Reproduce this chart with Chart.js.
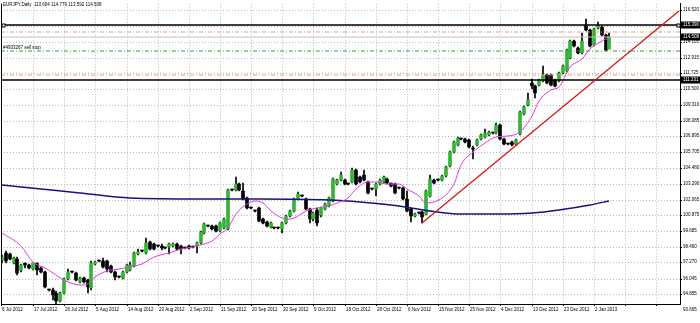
<!DOCTYPE html>
<html>
<head>
<meta charset="utf-8">
<script src="https://cdn.jsdelivr.net/npm/chart.js@4.4.0/dist/chart.umd.min.js"></script>
<style>
html,body{margin:0;padding:0;background:#fff;}
canvas{display:block;}
</style>
</head>
<body>
<canvas id="c" width="700" height="323"></canvas>
<script>
// daily candles, bar 1 is the first one visible at the left edge
var firstBar=1;
var openP=[97.494,98.022,97.947,97.193,97.570,96.665,97.193,97.042,96.740,97.193,
96.816,96.514,95.157,95.157,94.930,94.327,94.930,95.986,96.514,96.439,
95.760,96.062,95.911,95.307,97.117,97.419,97.419,97.419,96.966,96.514,
96.137,96.062,96.514,96.665,96.966,97.947,98.173,98.022,98.852,98.701,
98.550,98.550,98.399,98.475,98.550,98.701,98.550,98.399,98.550,98.475,
98.550,98.776,99.530,100.058,100.058,100.058,99.681,99.907,99.832,102.773,
102.773,103.225,102.698,102.170,101.416,101.189,101.416,100.586,100.360,99.983,
99.907,99.907,99.832,100.285,100.812,101.189,102.094,102.320,102.094,101.340,
100.586,101.265,100.888,101.340,101.566,101.944,103.225,103.603,103.603,103.225,
103.452,104.357,103.829,103.980,103.452,102.848,102.848,103.225,103.452,103.678,
103.301,103.225,102.924,102.924,102.094,101.340,100.812,101.039,101.114,100.963,
102.320,103.603,103.603,103.603,103.904,104.658,105.714,106.242,106.694,106.694,
106.619,105.940,106.242,106.694,106.845,106.996,107.147,107.147,107.750,106.694,
106.317,106.468,106.317,107.071,108.580,109.258,110.993,110.767,110.842,111.144,
111.596,111.596,111.219,111.144,111.747,111.898,112.878,114.160,113.632,113.255,
115.366,114.989,113.858,115.140,115.215,114.612,113.604];
var highP=[97.871,98.173,98.022,97.721,97.721,97.117,97.268,97.117,97.268,97.268,
96.891,96.589,95.232,95.307,95.081,95.006,96.062,96.740,96.589,96.514,
96.137,96.137,95.986,97.419,97.419,97.494,97.645,97.494,97.042,96.589,
96.212,96.589,97.117,97.344,98.098,98.324,98.248,99.153,98.927,98.776,
98.626,98.701,98.475,98.776,98.776,98.776,98.626,98.475,98.626,98.550,
98.852,99.681,100.285,100.134,100.134,100.134,100.360,100.662,102.848,102.848,
103.829,103.301,103.301,102.245,101.491,101.265,101.491,100.662,100.435,100.360,
99.983,99.983,100.360,100.888,101.265,102.170,102.622,102.396,102.170,101.416,
101.114,101.416,101.491,101.793,102.245,103.753,103.678,104.206,103.678,103.301,
104.507,104.432,103.904,104.357,103.527,102.924,103.301,103.678,103.904,103.753,
103.376,103.301,102.999,102.999,102.698,101.416,101.039,101.114,101.189,102.773,
103.980,103.678,103.678,103.980,104.658,105.790,106.544,106.845,106.770,106.770,
106.694,106.167,106.694,107.071,107.448,107.298,107.222,107.901,107.826,106.770,
106.393,106.544,106.694,108.806,109.183,110.239,111.295,110.842,111.295,112.275,
111.672,111.672,111.295,111.822,112.350,113.557,114.235,114.235,113.707,114.763,
115.894,115.064,115.140,115.592,115.291,114.688,114.779];
var lowP=[97.268,97.268,97.494,97.117,96.288,96.514,96.816,96.740,96.665,96.288,
96.439,95.307,95.081,94.403,94.101,94.252,94.855,95.911,96.439,95.835,
95.684,95.684,94.930,95.157,97.042,97.344,96.816,96.514,96.439,95.911,
96.062,95.986,96.439,96.589,96.891,97.871,98.098,97.947,98.248,98.248,
98.475,98.248,98.324,97.947,98.475,98.248,97.947,98.324,98.324,98.399,
98.022,98.701,99.455,99.983,99.757,99.606,99.606,99.832,99.757,102.698,
102.698,102.698,102.019,101.340,101.340,101.114,100.360,100.209,99.983,99.907,
99.832,99.832,99.530,100.209,100.737,101.114,102.019,102.245,101.265,100.285,
100.435,100.058,100.737,101.265,101.491,101.868,103.150,103.527,103.150,103.150,
103.376,103.150,103.376,103.527,102.471,102.773,102.320,103.150,103.376,103.225,
102.999,102.471,102.848,102.019,101.114,100.360,100.737,100.963,100.285,100.888,
102.245,103.225,103.527,103.527,103.829,104.583,105.639,106.167,106.619,106.393,
106.016,105.186,106.167,106.619,106.770,106.921,107.071,107.071,106.619,106.242,
106.242,106.167,106.242,106.996,108.504,109.183,110.540,109.862,110.767,111.068,
110.917,110.767,110.691,111.068,111.672,111.822,112.803,113.707,113.180,113.180,
114.914,113.707,113.783,115.064,114.537,113.406,113.592];
var closeP=[97.721,97.419,97.570,97.645,96.439,97.042,97.042,96.816,97.193,96.665,
96.514,95.383,95.157,94.780,94.327,94.930,95.986,96.514,96.514,95.911,
96.062,95.760,95.383,97.268,97.344,97.419,96.891,96.740,96.514,96.137,
96.137,96.514,97.042,97.042,98.022,98.098,98.173,98.776,98.324,98.324,
98.550,98.399,98.399,98.701,98.701,98.324,98.324,98.399,98.399,98.475,
98.776,99.606,100.209,100.058,99.832,99.681,100.285,100.586,102.773,102.773,
103.225,102.773,102.094,101.416,101.416,101.189,100.435,100.285,100.058,100.285,
99.907,99.907,100.285,100.812,101.189,102.094,102.471,102.320,101.340,100.586,
101.039,100.285,101.416,101.717,102.170,103.678,103.603,103.980,103.225,103.225,
104.357,103.225,103.452,103.603,102.547,102.848,103.225,103.603,103.829,103.301,
103.075,102.547,102.924,102.094,101.189,100.812,100.963,101.039,100.737,102.698,
103.678,103.301,103.603,103.904,104.583,105.714,106.468,106.770,106.694,106.468,
106.091,105.940,106.619,106.996,107.147,107.222,107.147,107.750,106.694,106.317,
106.317,106.242,106.619,108.730,109.107,109.711,110.767,110.239,111.219,111.596,
110.993,110.842,110.767,111.747,112.275,113.481,114.160,113.783,113.255,114.160,
114.989,113.783,115.064,115.366,114.612,113.481,114.508];

// fast MA (magenta) and slow MA (navy), read at some bars
var fastBars=[1,6,9,12,14,17,21,23,25,28,31,35,37,40,44,47,50,53,55,57,59,61,64,66,68,70,73,75,77,79,82,85,87,90,92,95,97,100,103,105,108,110,114,117,119,122,125,128,131,134,137,139,142,144,147,150,152,155,156,157];
var fastMA=[99.53,98.55,97.29,96.82,96.44,95.91,95.53,95.61,96.14,96.59,96.74,96.97,97.19,97.72,98.02,98.32,98.47,98.70,98.93,99.45,99.91,100.96,101.72,101.94,101.79,101.19,100.66,100.59,100.81,101.19,101.42,101.57,101.79,102.17,102.85,103.45,103.45,103.30,103.23,102.85,102.32,101.79,102.17,103.23,104.73,105.71,106.39,106.85,106.92,107.22,108.43,109.63,110.46,110.69,112.20,112.80,113.56,114.16,114.31,114.23];
var slowBars=[1,11,21,34,52,67,85,93,103,111,119,129,137,144,152,157];
var slowMA=[103.15,102.85,102.55,102.17,102.09,102.09,102.02,101.87,101.57,101.19,100.96,100.96,101.04,101.26,101.64,101.94];

// trend line anchors
var trendBars=[109,175];
var trendPrices=[100.285,116.44];

// horizontal levels
var levelTop=115.390, levelSL=114.840, levelBid=114.508, levelOrder=113.410, levelTP=111.600, levelLow=111.231;

// axis labels
var dateLabels=['6 Jul 2012','17 Jul 2012','26 Jul 2012','5 Aug 2012','14 Aug 2012','23 Aug 2012','2 Sep 2012','11 Sep 2012','20 Sep 2012','30 Sep 2012','9 Oct 2012','18 Oct 2012','28 Oct 2012','6 Nov 2012','15 Nov 2012','25 Nov 2012','4 Dec 2012','13 Dec 2012','23 Dec 2012','2 Jan 2013'];
var dateBars=[0,9,17,25,33,41,49,57,65,73,81,89,97,105,113,121,129,137,145,153];
var futureGridBars=[161,169];
var priceTicks=[94.855,96.045,97.270,98.460,99.685,100.875,102.065,103.290,104.480,105.705,106.895,108.085,109.310,110.500,111.725,112.915,114.105,115.330,116.520];
var bottomPrice=93.665;
var headerText='EURJPY,Daily  113.604 114.779 113.592 114.508';
var orderText='#4933267 sell stop';

var X_MIN=0.769, X_MAX=175.13, Y_MIN=94.101, Y_MAX=117.027;
var FONT='"Liberation Sans", Arial, sans-serif';

var wicks=[],bodies=[],bodyCols=[];
for(var i=0;i<openP.length;i++){
  wicks.push({x:firstBar+i,y:[lowP[i],highP[i]]});
  bodies.push({x:firstBar+i,y:[openP[i],closeP[i]]});
  bodyCols.push(closeP[i]>openP[i]?'#36b336':'#000000');
}
function pts(bars,vals){
  var a=[];
  for(var i=0;i<bars.length;i++) a.push({x:bars[i],y:vals[i]});
  return a;
}
function hline(v,color,dash,w){
  return {type:'line',data:[{x:X_MIN,y:v},{x:X_MAX,y:v}],borderColor:color,borderWidth:w,borderDash:dash,pointRadius:0,order:2};
}

var decor={id:'decor',
  beforeDraw:function(ch){
    var c=ch.ctx;c.save();c.fillStyle='#fff';c.fillRect(0,0,ch.width,ch.height);c.restore();
  },
  afterDraw:function(ch){
    var c=ch.ctx,a=ch.chartArea,ys=ch.scales.y;
    c.save();
    c.strokeStyle='#000';c.lineWidth=1;
    c.beginPath();c.moveTo(a.left+0.5,a.top);c.lineTo(a.left+0.5,a.bottom);c.stroke();
    var yt=Math.round(ys.getPixelForValue(levelTop))+0.5;
    c.fillStyle='#fff';
    [a.left+2.5,a.right-1.5].forEach(function(x){c.fillRect(x-1.5,yt-1.5,3,3);c.strokeRect(x-1.5,yt-1.5,3,3);});
    c.font='4.5px '+FONT;c.textBaseline='middle';c.textAlign='left';
    [levelTop,levelBid,levelLow].forEach(function(v){
      var y=ys.getPixelForValue(v);
      c.fillStyle='#000';c.fillRect(a.right+1,y-3.5,19,7);
      c.fillStyle='#fff';c.fillText(v.toFixed(3),a.right+3,y);
    });
    c.fillStyle='#000';
    c.fillText(bottomPrice.toFixed(3),a.right+3,ys.getPixelForValue(bottomPrice));
    c.fillText(headerText,3,5);
    c.fillText(orderText,3,ys.getPixelForValue(levelOrder)-3);
    c.restore();
  }
};

var gridOpts={color:'#b8b8b8',tickColor:'#000',tickLength:2,tickBorderDash:[],offset:false};
var tickFont={family:FONT,size:4.5};

new Chart(document.getElementById('c'),{
  type:'bar',
  data:{datasets:[
    {type:'bar',data:wicks,backgroundColor:'#000',barThickness:1,grouped:false,order:9},
    {type:'bar',data:bodies,backgroundColor:bodyCols,barThickness:3,minBarLength:1,grouped:false,order:8},
    {type:'line',data:pts(slowBars,slowMA),borderColor:'#14147d',borderWidth:1.5,pointRadius:0,cubicInterpolationMode:'monotone',order:4},
    {type:'line',data:pts(fastBars,fastMA),borderColor:'#e03ce0',borderWidth:1,pointRadius:0,cubicInterpolationMode:'monotone',order:3},
    hline(levelTop,'#000',[],1.5),
    hline(levelSL,'#f0986a',[4,2,1,2],1),
    hline(levelBid,'#c0c0c0',[],1),
    hline(levelOrder,'#3f9a3f',[4,2,1,2],1),
    hline(levelTP,'#f0986a',[4,2,1,2],1),
    hline(levelLow,'#000',[],1.5),
    {type:'line',data:pts(trendBars,trendPrices),borderColor:'#dd1414',borderWidth:1.3,pointRadius:0,order:1}
  ]},
  options:{
    responsive:false,animation:false,devicePixelRatio:1,
    layout:{padding:0},
    plugins:{legend:{display:false},tooltip:{enabled:false}},
    scales:{
      x:{type:'linear',min:X_MIN,max:X_MAX,bounds:'data',offset:false,alignToPixels:true,
        grid:gridOpts,
        border:{color:'#000',width:1,dash:[1,2]},
        afterBuildTicks:function(s){
          s.ticks=dateBars.concat(futureGridBars).map(function(v){return {value:Math.max(v,X_MIN)};});
        },
        afterFit:function(s){s.height=19;},
        ticks:{autoSkip:false,maxRotation:0,minRotation:0,align:'start',labelOffset:1,padding:1,color:'#000',font:tickFont,
          callback:function(v,idx){return idx<dateLabels.length?dateLabels[idx]:'';}}
      },
      y:{type:'linear',position:'right',min:Y_MIN,max:Y_MAX,bounds:'data',alignToPixels:true,
        grid:gridOpts,
        border:{color:'#000',width:1,dash:[1,2]},
        afterBuildTicks:function(s){
          s.ticks=priceTicks.map(function(v){return {value:v};});
        },
        afterFit:function(s){s.width=20;},
        ticks:{padding:1,color:'#000',font:tickFont,callback:function(v){return v.toFixed(3);}}
      }
    }
  },
  plugins:[decor]
});
</script>
</body>
</html>
